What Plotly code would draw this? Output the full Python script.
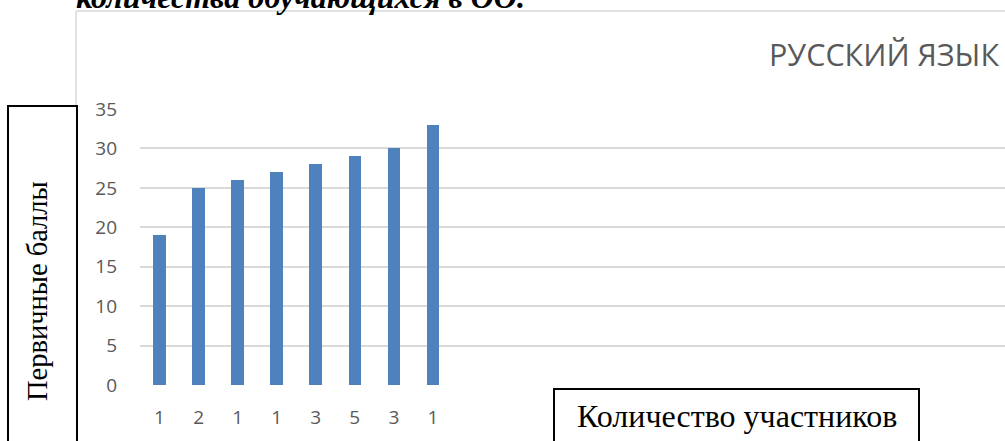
import plotly.graph_objects as go

# ---- data ----
categories = [0, 1, 2, 3, 4, 5, 6, 7]
tick_labels = ["1", "2", "1", "1", "3", "5", "3", "1"]
scores = [19, 25, 26, 27, 28, 29, 30, 33]
title_text = "РУССКИЙ ЯЗЫК"
y_label = "Первичные баллы"
x_label = "Количество участников"
top_text = "количества обучающихся в ОО."

W, H = 1005, 441
L, R, T, B = 140, 0, 109, 56
PW, PH = W - L - R, H - T - B


def px(x):
    return (x - L) / PW


def py(y):
    return (H - B - y) / PH


cat_w = 39.05
x_max = PW / cat_w - 0.5

fig = go.Figure()
fig.add_trace(go.Bar(
    x=categories, y=scores, width=0.32,
    marker=dict(color="#4F81BD", line=dict(width=0)),
    showlegend=False,
))

gray = "#595959"
fig.update_layout(
    width=W, height=H,
    margin=dict(l=L, r=R, t=T, b=B, pad=0),
    paper_bgcolor="white", plot_bgcolor="white",
    xaxis=dict(
        range=[-0.5, x_max], tickvals=categories, ticktext=tick_labels,
        showgrid=False, zeroline=False, showline=False,
        ticks="", ticklabelstandoff=19,
        tickfont=dict(family="Open Sans", size=19, color=gray),
    ),
    yaxis=dict(
        range=[0, 35], tickvals=[0, 5, 10, 15, 20, 25, 30, 35],
        showgrid=True, gridcolor="#d9d9d9", gridwidth=1.5,
        zeroline=False, showline=False, ticks="", ticklabelstandoff=22,
        tickfont=dict(family="Open Sans", size=19, color=gray),
    ),
    bargap=0,
)

shapes = [
    # chart area border (left & top)
    dict(type="line", xref="paper", yref="paper", x0=px(76), x1=px(76), y0=py(11), y1=py(450),
         line=dict(color="#d9d9d9", width=1.5)),
    dict(type="line", xref="paper", yref="paper", x0=px(76), x1=px(1010), y0=py(11), y1=py(11),
         line=dict(color="#d9d9d9", width=1.5)),
    # y label box
    dict(type="rect", xref="paper", yref="paper", x0=px(8), x1=px(77), y0=py(106), y1=py(450),
         line=dict(color="black", width=2), fillcolor="white"),
    # x label box
    dict(type="rect", xref="paper", yref="paper", x0=px(554), x1=px(919), y0=py(389), y1=py(450),
         line=dict(color="black", width=2), fillcolor="white"),
]
fig.update_layout(shapes=shapes)

serif = "Liberation Serif, Times New Roman, serif"
annotations = [
    dict(text=title_text, xref="paper", yref="paper", x=px(1001), y=py(54),
         xanchor="right", yanchor="middle", showarrow=False,
         font=dict(family="Open Sans", size=30.5, color=gray)),
    dict(text=y_label, xref="paper", yref="paper", x=px(37), y=py(291),
         xanchor="center", yanchor="middle", showarrow=False, textangle=-90,
         font=dict(family=serif, size=28.5, color="black")),
    dict(text=x_label, xref="paper", yref="paper", x=px(737), y=py(416),
         xanchor="center", yanchor="middle", showarrow=False,
         font=dict(family=serif, size=32, color="black")),
    dict(text="<b><i>" + top_text + "</i></b>", xref="paper", yref="paper", x=px(74), y=py(-3),
         xanchor="left", yanchor="middle", showarrow=False,
         font=dict(family=serif, size=32, color="black")),
]
fig.update_layout(annotations=annotations)

fig.write_html("out.html", config={"displayModeBar": False},
               post_script="document.body.style.margin='0';")
